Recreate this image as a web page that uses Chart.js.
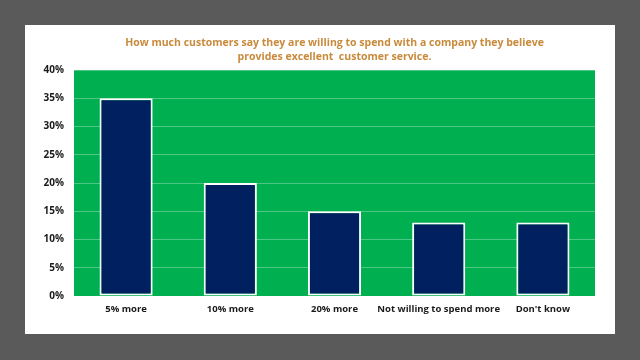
<!DOCTYPE html>
<html>
<head>
<meta charset="utf-8">
<script src="https://cdn.jsdelivr.net/npm/chart.js@4"></script>
<style>
  html, body { margin: 0; padding: 0; background: #5a5a5a; }
  #wrap { width: 640px; height: 360px; }
</style>
</head>
<body>
<div id="wrap"><canvas id="myChart" width="640" height="360"></canvas></div>
<script>
// Chart data
const categories = ['5% more', '10% more', '20% more', 'Not willing to spend more', "Don't know"];
const values = [35, 20, 15, 13, 13];
const titleLines = ['How much customers say they are willing to spend with a company they believe',
                    'provides excellent  customer service.'];

// Draws the gray frame, white card and green plot area
const backdrop = {
    id: 'backdrop',
    beforeDraw(chart) {
        const c = chart.ctx;
        const a = chart.chartArea;
        c.save();
        c.fillStyle = '#5a5a5a';
        c.fillRect(0, 0, chart.width, chart.height);
        c.fillStyle = '#ffffff';
        c.fillRect(25, 25, 590, 309);
        c.fillStyle = '#00b050';
        c.fillRect(a.left, a.top, a.right - a.left, a.bottom - a.top);
        c.restore();
    }
};

const ctx = document.getElementById('myChart').getContext('2d');
new Chart(ctx, {
    type: 'bar',
    data: {
        labels: categories,
        datasets: [{
            data: values,
            backgroundColor: '#002060',
            borderColor: '#ffffff',
            borderWidth: 2,
            borderSkipped: false,
            categoryPercentage: 1,
            barPercentage: 0.51
        }]
    },
    options: {
        responsive: false,
        animation: false,
        layout: { padding: { top: 36, left: 25, right: 45, bottom: 0 } },
        plugins: {
            legend: { display: false },
            tooltip: { enabled: false },
            title: {
                display: true,
                fullSize: false, // center over the plot area
                text: titleLines,
                color: '#c98a3c',
                font: { family: 'Open Sans', size: 10.5, weight: 'bold', lineHeight: '14px' },
                padding: { top: 0, bottom: 6 }
            }
        },
        scales: {
            x: {
                grid: { display: false, drawTicks: false },
                border: { display: false },
                ticks: {
                    color: '#1a1a1a',
                    font: { family: 'Open Sans', size: 9.5, weight: 'bold' },
                    padding: 8,
                    maxRotation: 0,
                    autoSkip: false
                },
                afterFit(scale) { scale.height = 64; }
            },
            y: {
                min: 0,
                max: 40,
                grid: { color: 'rgba(255,255,255,0.3)', lineWidth: 1, drawTicks: false },
                border: { display: false },
                ticks: {
                    stepSize: 5,
                    color: '#1a1a1a',
                    font: { family: 'Open Sans', size: 10, weight: 'bold' },
                    padding: 10,
                    callback: v => v + '%'
                },
                afterFit(scale) { scale.width = 49; }
            }
        }
    },
    plugins: [backdrop]
});
</script>
</body>
</html>
